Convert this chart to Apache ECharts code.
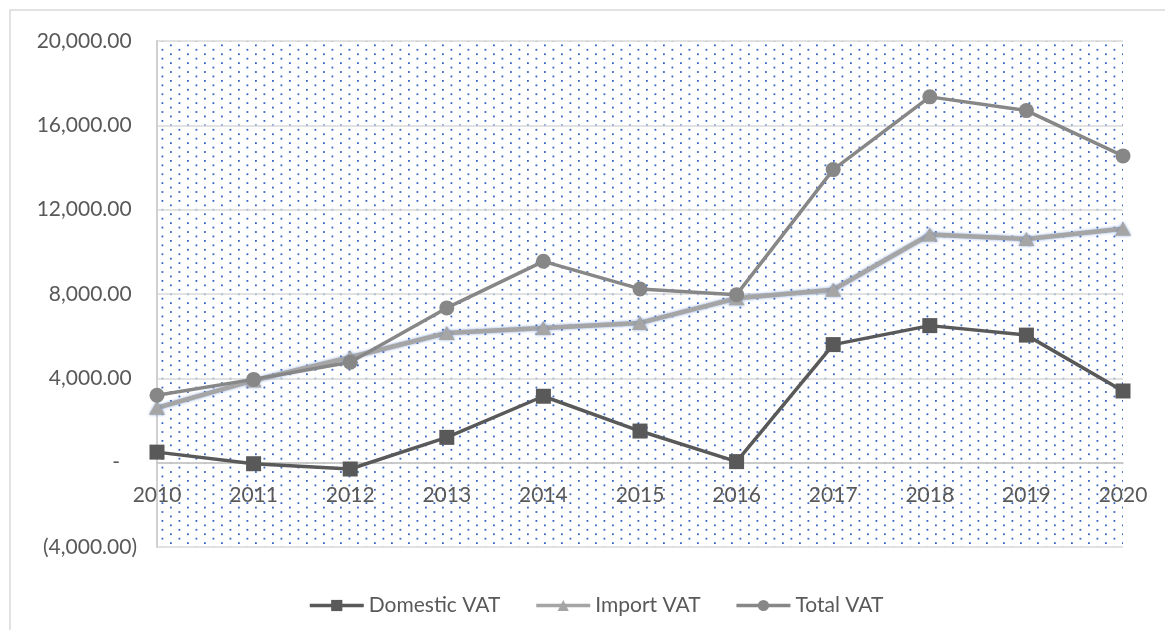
<!DOCTYPE html>
<html>
<head>
<meta charset="utf-8">
<script src="https://cdn.jsdelivr.net/npm/echarts@6/dist/echarts.min.js"></script>
<style>
  html, body { margin: 0; padding: 0; background: #fff; }
  #echart { width: 1165px; height: 630px; }
</style>
</head>
<body>
<div id="echart"></div>
<script>
// data
const years = ['2010', '2011', '2012', '2013', '2014', '2015', '2016', '2017', '2018', '2019', '2020'];
const domesticVat = [500, -50, -300, 1200, 3150, 1500, 50, 5600, 6500, 6050, 3400];
const importVat = [2600, 3900, 5000, 6150, 6390, 6630, 7800, 8200, 10820, 10610, 11090];
const totalVat = [3200, 3950, 4760, 7340, 9550, 8240, 7970, 13900, 17350, 16700, 14550];
const yTicks = { min: -4000, max: 20000, interval: 4000 };

const textColor = '#595959';
const fontFamily = 'Lato, "Open Sans", sans-serif';

// dotted fill of the plot area
function dotPattern() {
  const c = document.createElement('canvas');
  c.width = 34;
  c.height = 80;
  const ctx = c.getContext('2d');
  ctx.fillStyle = '#3564c4';
  for (let i = 0; i < 18; i++) {
    const y = i * 80 / 18;
    const off = i % 2 ? 8.5 : 0;
    for (let k = 0; k < 2; k++) {
      ctx.fillRect(off + k * 17, y, 1.8, 1.8);
    }
  }
  return c;
}

function money(v) {
  if (v === 0) return '{dash|-}';
  const s = Math.abs(v).toLocaleString('en-US', { minimumFractionDigits: 2, maximumFractionDigits: 2 });
  return v < 0 ? '(' + s + ')' : s + ' ';
}

const echart = echarts.init(document.getElementById('echart'));

const option = {
  backgroundColor: '#fff',
  animation: false,
  textStyle: { fontFamily: fontFamily },
  graphic: [{
    type: 'rect',
    shape: { x: 10, y: 10, width: 1300, height: 800 },
    style: { fill: 'none', stroke: '#d9d9d9', lineWidth: 1.5 },
    silent: true
  }],
  grid: {
    left: 157,
    right: 42,
    top: 41,
    bottom: 83,
    show: true,
    borderWidth: 0,
    backgroundColor: { image: dotPattern(), repeat: 'repeat' }
  },
  legend: {
    left: 303,
    top: 590,
    itemWidth: 54,
    itemHeight: 14,
    itemGap: 34,
    lineStyle: { width: 3.5 },
    textStyle: { color: textColor, fontSize: 21, fontFamily: fontFamily },
    data: ['Domestic VAT', 'Import VAT', 'Total VAT']
  },
  xAxis: {
    type: 'category',
    data: years,
    boundaryGap: false,
    position: 'bottom',
    // labels sit under the zero line, not under the plot
    offset: -84,
    axisLine: { onZero: false, lineStyle: { color: '#c4c4c4', width: 1.5 } },
    axisTick: { show: false },
    axisLabel: { color: textColor, fontSize: 21, margin: 22, fontFamily: fontFamily }
  },
  yAxis: {
    type: 'value',
    min: yTicks.min,
    max: yTicks.max,
    interval: yTicks.interval,
    axisLine: { show: true, lineStyle: { color: '#d0d0d0', width: 2 } },
    axisTick: { show: false },
    splitLine: { lineStyle: { color: '#d9d9d9', width: 1.5 } },
    axisLabel: {
      color: textColor,
      fontSize: 21,
      margin: 20,
      fontFamily: fontFamily,
      formatter: money,
      rich: { dash: { fontSize: 21, color: textColor, padding: [0, 17, 0, 0], fontFamily: fontFamily } }
    }
  },
  series: [
    {
      name: 'Domestic VAT',
      type: 'line',
      data: domesticVat,
      symbol: 'rect',
      symbolSize: 15,
      lineStyle: { color: '#595959', width: 3.5 },
      itemStyle: { color: '#595959' }
    },
    {
      name: 'Import VAT',
      type: 'line',
      data: importVat,
      symbol: 'triangle',
      symbolSize: [16, 14],
      lineStyle: { color: '#a5a5a5', width: 4.5, shadowColor: 'rgba(68,114,196,0.6)', shadowBlur: 3 },
      itemStyle: { color: '#a5a5a5', shadowColor: 'rgba(68,114,196,0.6)', shadowBlur: 3 }
    },
    {
      name: 'Total VAT',
      type: 'line',
      data: totalVat,
      symbol: 'circle',
      symbolSize: 15,
      lineStyle: { color: '#878787', width: 3.5 },
      itemStyle: { color: '#878787' }
    }
  ]
};

echart.setOption(option);
</script>
</body>
</html>
